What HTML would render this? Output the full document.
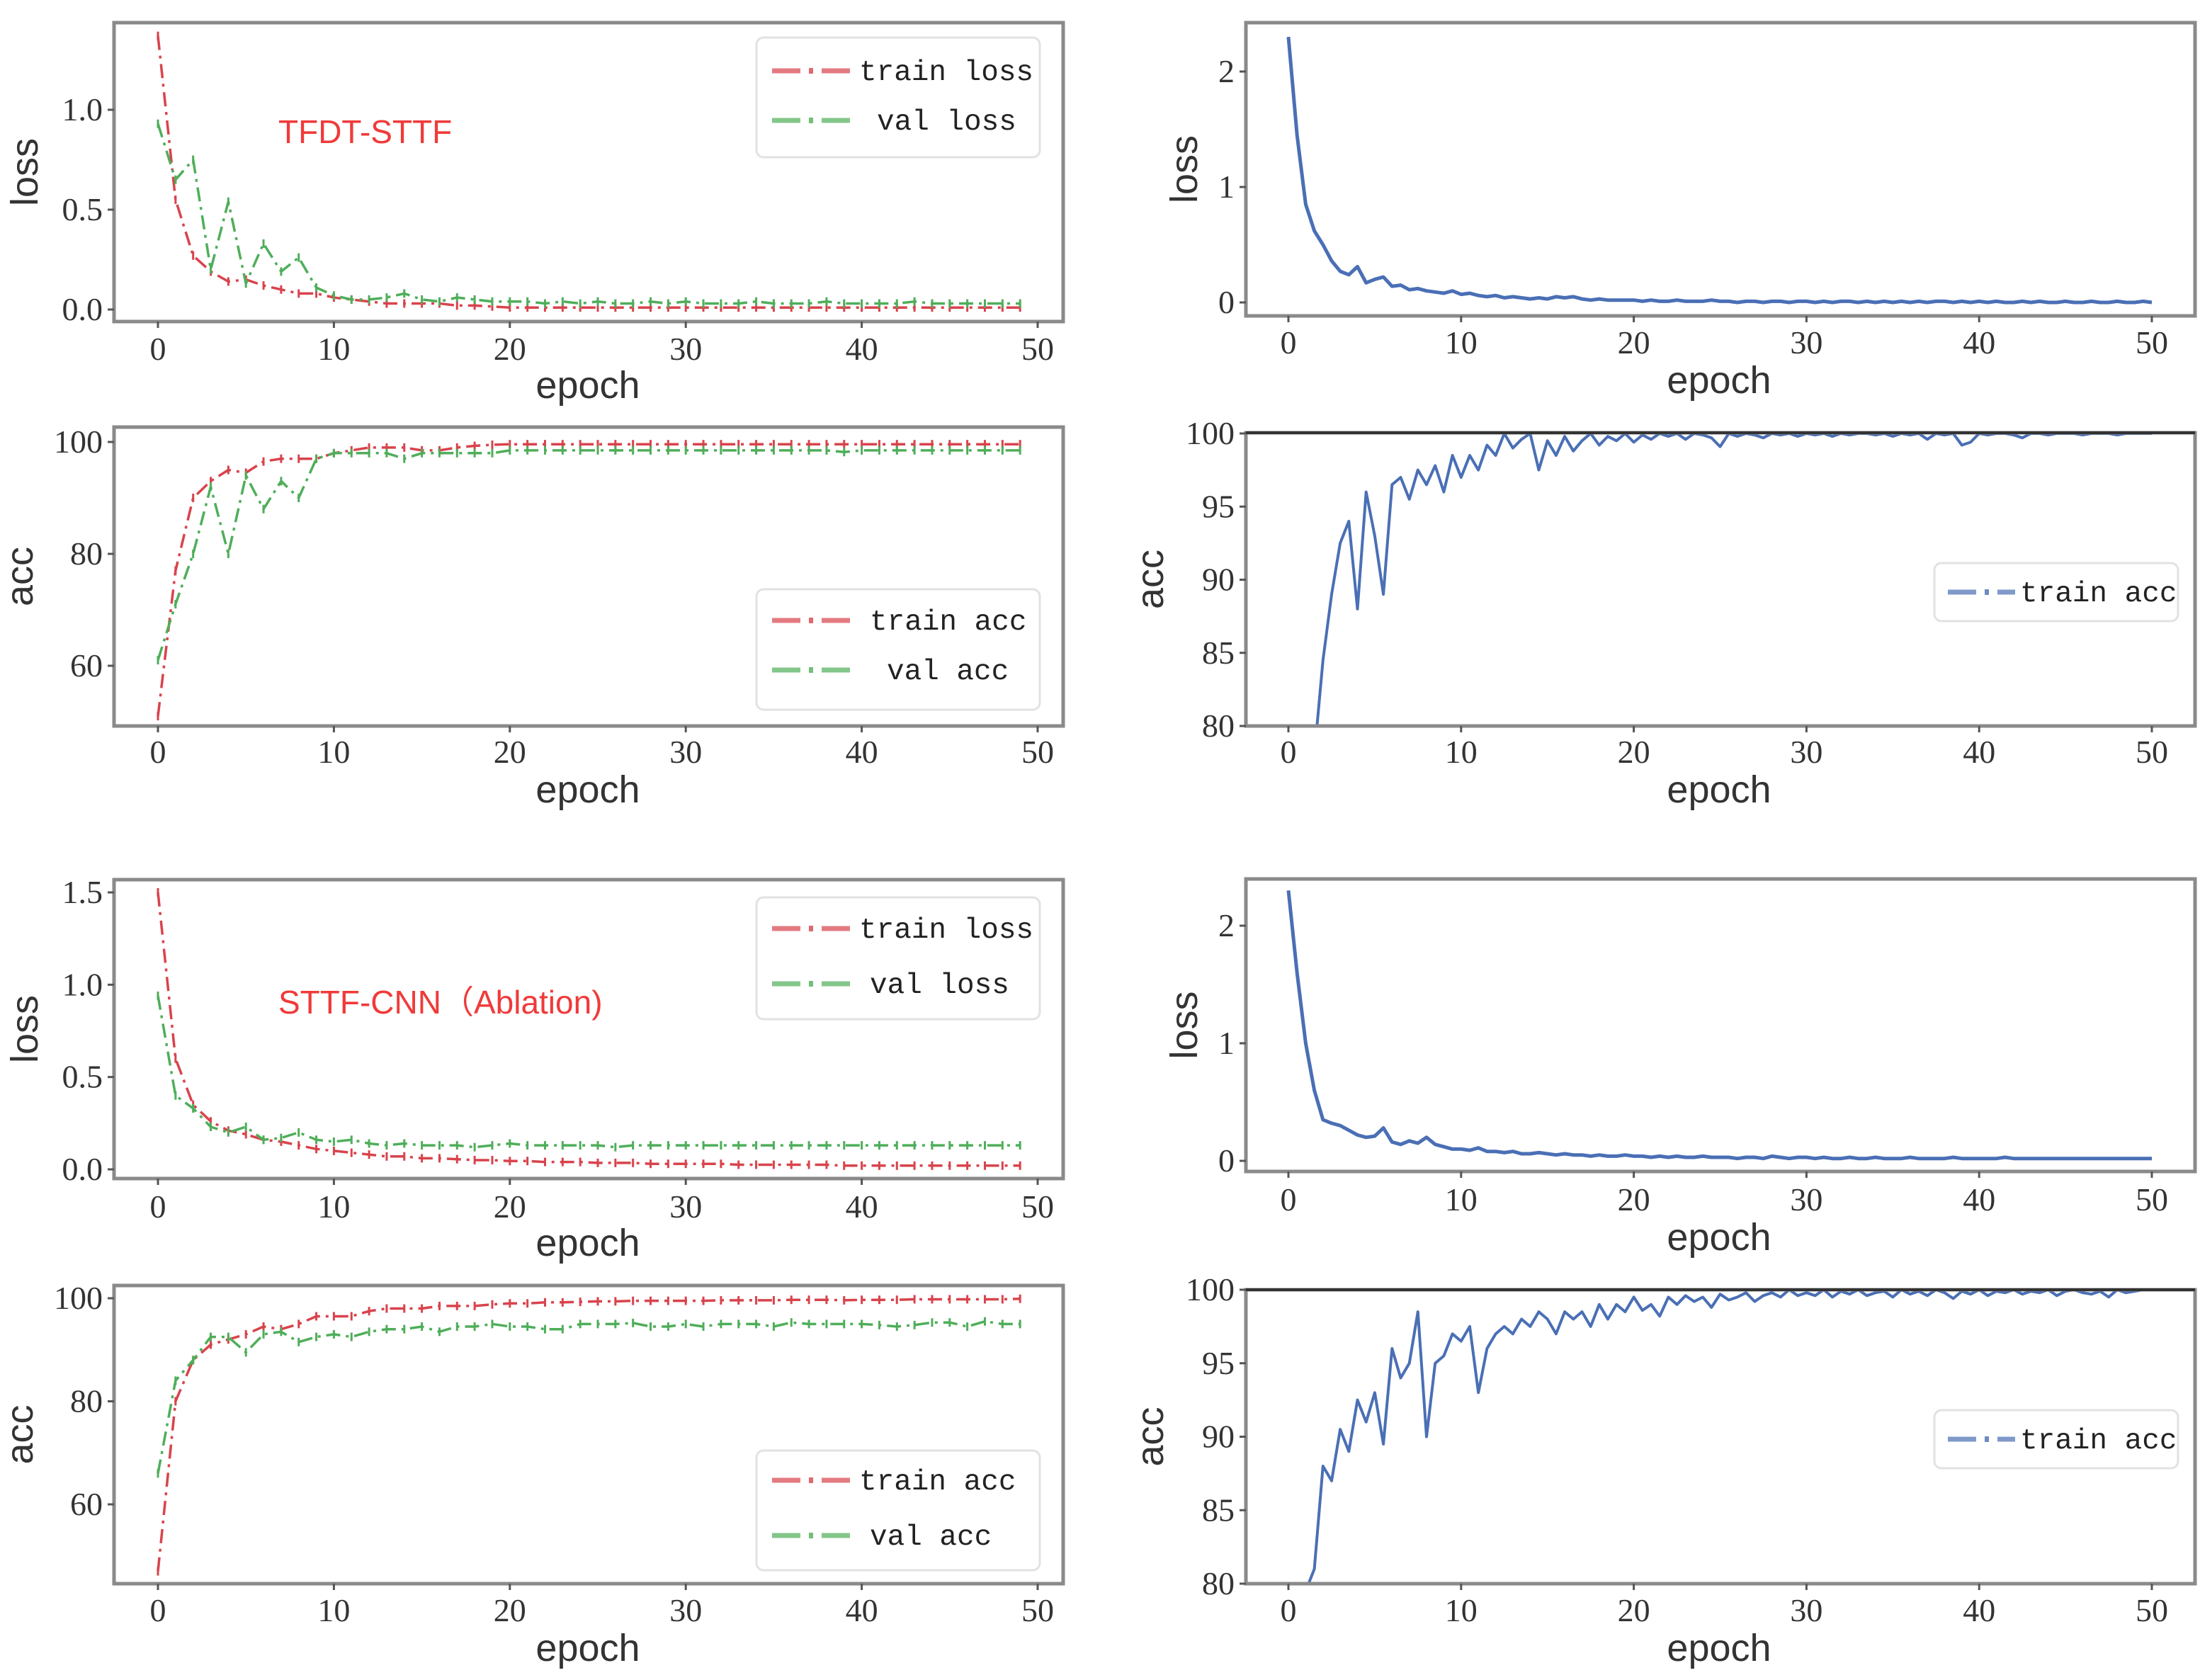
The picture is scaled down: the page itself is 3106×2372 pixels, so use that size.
<!DOCTYPE html>
<html><head><meta charset="utf-8"><style>
html,body{margin:0;padding:0;background:#fff;width:3106px;height:2372px;overflow:hidden;}
svg{display:block;overflow:hidden;}
.tick{font-family:"Liberation Serif",serif;font-size:46px;fill:#333;}
.axl{font-family:"Liberation Sans",sans-serif;font-size:54px;fill:#333;}
.leg{font-family:"Liberation Mono",monospace;font-size:41px;fill:#222;}
.ann{font-family:"Liberation Sans",sans-serif;font-size:46px;fill:#f03a3a;}
</style></head><body>
<svg id="fig" width="3106" height="2372" viewBox="0 0 3106 2372" xmlns="http://www.w3.org/2000/svg">
<rect width="3106" height="2372" fill="#fff"/>
<defs></defs>
</svg>
<script>
// ---- data ----
const epochsLeft = Array.from({length:50},(_,i)=>i);
const tfdtTrainLoss=[1.37,0.55,0.27,0.19,0.14,0.15,0.12,0.10,0.08,0.08,0.06,0.05,0.04,0.03,0.03,0.03,0.03,0.02,0.02,0.015,
0.01,0.01,0.01,0.01,0.01,0.01,0.01,0.01,0.01,0.01,0.01,0.01,0.01,0.01,0.01,0.01,0.01,0.01,0.01,0.01,0.01,0.01,0.01,0.01,0.01,0.01,0.01,0.01,0.01,0.01];
const tfdtValLoss=[0.93,0.65,0.75,0.2,0.54,0.13,0.33,0.19,0.26,0.11,0.07,0.05,0.05,0.06,0.08,0.05,0.04,0.06,0.05,0.04,
0.04,0.04,0.03,0.04,0.03,0.04,0.03,0.03,0.04,0.03,0.04,0.03,0.03,0.03,0.04,0.03,0.03,0.03,0.04,0.03,0.03,0.03,0.03,0.04,0.03,0.03,0.03,0.03,0.03,0.03];
const tfdtTrainAcc=[51,77,90,93,95,94.5,96.5,97,97,97,98,98.5,99,99,99,98.5,98.5,99,99.3,99.5,
99.6,99.6,99.6,99.6,99.6,99.6,99.6,99.6,99.6,99.6,99.6,99.6,99.6,99.6,99.6,99.6,99.6,99.6,99.6,99.6,99.6,99.6,99.6,99.6,99.6,99.6,99.6,99.6,99.6,99.6];
const tfdtValAcc=[61,71,80,92,80,94,88,93,90,97,98,98,98,98,97,98,98,98,98,98,
98.5,98.5,98.5,98.5,98.5,98.5,98.5,98.5,98.5,98.5,98.5,98.5,98.5,98.5,98.5,98.5,98.5,98.5,98.5,98.2,98.5,98.5,98.5,98.5,98.5,98.5,98.5,98.5,98.5,98.5];
const sttfTrainLoss=[1.5,0.6,0.35,0.26,0.21,0.19,0.16,0.15,0.13,0.11,0.1,0.09,0.08,0.07,0.07,0.06,0.06,0.055,0.05,0.05,
0.045,0.045,0.04,0.04,0.04,0.035,0.035,0.035,0.03,0.03,0.03,0.03,0.03,0.025,0.025,0.025,0.025,0.025,0.025,0.02,0.02,0.02,0.02,0.02,0.02,0.02,0.02,0.02,0.02,0.02];
const sttfValLoss=[0.94,0.4,0.33,0.23,0.2,0.23,0.16,0.17,0.2,0.16,0.15,0.16,0.14,0.13,0.14,0.13,0.13,0.13,0.12,0.13,
0.14,0.13,0.13,0.13,0.13,0.13,0.12,0.13,0.13,0.13,0.13,0.13,0.13,0.13,0.13,0.13,0.13,0.13,0.13,0.13,0.13,0.13,0.13,0.13,0.13,0.13,0.13,0.13,0.13,0.13];
const sttfTrainAcc=[47,80,88,91,92,93,94.5,94,95,96.5,96.5,96.5,97.5,98,98,98,98.5,98.5,98.5,98.8,
99,99,99.2,99.2,99.3,99.4,99.4,99.5,99.5,99.5,99.5,99.5,99.6,99.6,99.6,99.6,99.7,99.7,99.7,99.6,99.7,99.7,99.7,99.8,99.8,99.8,99.8,99.8,99.8,99.9];
const sttfValAcc=[66,84,88,92.5,92.5,89.5,93,93.5,91.5,92.5,93,92.5,93.5,94,94,94.5,93.5,94.5,94.5,95,
94.5,94.5,94,94,95,95,95,95.2,94.5,94.5,95,94.5,95,95,95,94.5,95.3,95,95,95,95,94.8,94.5,94.8,95.3,95.3,94.5,95.5,95,95];

const r1Loss=[2.3,1.45,0.85,0.62,0.5,0.36,0.27,0.24,0.31,0.17,
0.2,0.22,0.14,0.15,0.11,0.12,0.1,0.09,0.08,0.1,
0.07,0.08,0.06,0.05,0.06,0.04,0.05,0.04,0.03,0.04,
0.03,0.05,0.04,0.05,0.03,0.02,0.03,0.02,0.02,0.02,
0.02,0.01,0.02,0.01,0.01,0.02,0.01,0.01,0.01,0.02,
0.01,0.01,0.0,0.01,0.01,0.0,0.01,0.01,0.0,0.01,
0.01,0.0,0.01,0.0,0.01,0.01,0.0,0.01,0.0,0.01,
0.0,0.01,0.0,0.01,0.0,0.01,0.01,0.0,0.01,0.0,
0.01,0.0,0.01,0.0,0.0,0.01,0.0,0.01,0.0,0.0,
0.01,0.0,0.0,0.01,0.0,0.0,0.01,0.0,0.0,0.01,0.0];
const r2Acc=[60,66,72,78,84.5,89,92.5,94,88,96,
93,89,96.5,97,95.5,97.5,96.5,97.8,96,98.5,
97,98.5,97.5,99.2,98.5,100,99,99.6,100,97.5,
99.5,98.5,99.8,98.8,99.5,100,99.2,99.8,99.5,100,
99.4,99.9,99.6,100,99.8,100,99.6,100,99.9,99.7,
99.1,100,99.8,100,99.9,99.7,100,99.9,100,99.8,
100,99.9,100,99.8,100,99.9,100,100,99.9,100,
99.8,100,99.9,100,99.6,100,99.9,100,99.2,99.4,
100,99.9,100,100,99.9,99.7,100,100,99.9,100,
100,100,99.9,100,100,100,99.9,100,100,100,100];
const r3Loss=[2.3,1.6,1.0,0.6,0.35,0.32,0.3,0.26,0.22,0.2,
0.21,0.28,0.16,0.14,0.17,0.15,0.2,0.14,0.12,0.1,
0.1,0.09,0.11,0.08,0.08,0.07,0.08,0.06,0.06,0.07,
0.06,0.05,0.06,0.05,0.05,0.04,0.05,0.04,0.04,0.05,
0.04,0.04,0.03,0.04,0.03,0.04,0.03,0.03,0.04,0.03,
0.03,0.03,0.02,0.03,0.03,0.02,0.04,0.03,0.02,0.03,
0.03,0.02,0.03,0.02,0.02,0.03,0.02,0.02,0.03,0.02,
0.02,0.02,0.03,0.02,0.02,0.02,0.02,0.03,0.02,0.02,
0.02,0.02,0.02,0.03,0.02,0.02,0.02,0.02,0.02,0.02,
0.02,0.02,0.02,0.02,0.02,0.02,0.02,0.02,0.02,0.02,0.02];
const r4Acc=[75,77,79.5,81,88,87,90.5,89,92.5,91,
93,89.5,96,94,95,98.5,90,95,95.5,97,
96.5,97.5,93,96,97,97.5,97,98,97.5,98.5,
98,97,98.5,98,98.5,97.5,99,98,99,98.5,
99.5,98.6,99,98.2,99.5,99,99.6,99.2,99.5,98.8,
99.7,99.3,99.5,99.8,99.2,99.6,99.8,99.5,100,99.6,
99.8,99.6,100,99.5,99.9,99.7,100,99.6,99.8,99.9,
99.5,100,99.7,99.9,99.6,100,99.8,99.4,99.9,99.7,
100,99.6,99.9,99.8,100,99.7,99.9,99.8,100,99.6,
99.9,100,99.8,99.7,99.9,99.5,100,99.8,99.9,100,100];

const xTickVals=[0,10,20,30,40,50];
const lossTicksA=[0,0.5,1.0], lossTickLabelsA=["0.0","0.5","1.0"];
const lossTicksB=[0,0.5,1.0,1.5], lossTickLabelsB=["0.0","0.5","1.0","1.5"];
const accTicksL=[60,80,100], accTickLabelsL=["60","80","100"];
const lossTicksR=[0,1,2], lossTickLabelsR=["0","1","2"];
const accTicksR=[80,85,90,95,100], accTickLabelsR=["80","85","90","95","100"];

const RED="#d9434c", GREEN="#4fae5a", BLUE="#4a6fb5";
const NS="http://www.w3.org/2000/svg";
const svg=document.getElementById('fig');
function mk(tag,attrs,parent){const e=document.createElementNS(NS,tag);for(const k in attrs)e.setAttribute(k,attrs[k]);(parent||svg).appendChild(e);return e;}

let clipId=0;
function panel(p){
  const g=mk('g',{});
  
  
  const sx=v=>p.x0+(v-0)*(p.x50-p.x0)/50;
  const sy=v=>p.yA+(v-p.vA)*(p.yB-p.yA)/(p.vB-p.vA);
  const cid='c'+(clipId++);
  const cp=mk('clipPath',{id:cid},svg.querySelector('defs'));
  mk('rect',{x:p.box[0],y:p.box[1]-4,width:p.box[2]-p.box[0],height:p.box[3]-p.box[1]+4},cp);
  p.series.forEach(s=>{
    const step=s.step;
    const pts=s.vals.map((v,i)=>[sx(i*step),sy(v)]);
    const path=mk('path',{d:'M'+pts.map(q=>q[0].toFixed(1)+','+q[1].toFixed(1)).join('L'),fill:'none',stroke:s.color,'stroke-width':s.w||3.5,'stroke-dasharray':s.dash||'none','clip-path':'url(#'+cid+')','stroke-linejoin':'round'},g);
    
    
    if(s.markers){pts.forEach(q=>{const m=mk('rect',{x:q[0]-1.5,y:q[1]-6,width:3,height:12,fill:s.color,'clip-path':'url(#'+cid+')'},g);
      
      });}
  });
  const fr=mk('rect',{x:p.box[0],y:p.box[1],width:p.box[2]-p.box[0],height:p.box[3]-p.box[1],fill:'none',stroke:'#8a8a8a','stroke-width':5},g);
  
  
  if(p.darkTop){mk('line',{x1:p.box[0],y1:p.box[1],x2:p.box[2],y2:p.box[1],stroke:'#333','stroke-width':4},g);}
  xTickVals.forEach(v=>{
    mk('line',{x1:sx(v),y1:p.box[3],x2:sx(v),y2:p.box[3]+9,stroke:'#555','stroke-width':3},g);
    const t=mk('text',{x:sx(v),y:p.xlabY+15,'text-anchor':'middle',class:'tick'},g);t.textContent=v;
    
    
  });
  p.yt.forEach((v,i)=>{
    mk('line',{x1:p.box[0]-9,y1:sy(v),x2:p.box[0],y2:sy(v),stroke:'#555','stroke-width':3},g);
    const t=mk('text',{x:p.box[0]-16,y:sy(v)+15,'text-anchor':'end',class:'tick'},g);t.textContent=p.ytl[i];
    
    
  });
  const xl=mk('text',{x:p.epochX,y:p.epochY+14,'text-anchor':'middle',class:'axl'},g);xl.textContent='epoch';
  
  
  const yl=mk('text',{x:0,y:0,'text-anchor':'middle',class:'axl',transform:'translate('+(p.ylabX+18)+','+((p.box[1]+p.box[3])/2)+') rotate(-90)'},g);yl.textContent=p.ylab;
  
  
  if(p.legend){
    const L=p.legend;
    const lg=mk('g',{},g);
    
    
    mk('rect',{x:L.box[0],y:L.box[1],width:L.box[2]-L.box[0],height:L.box[3]-L.box[1],rx:10,fill:'#fff',stroke:'#e2e2e2','stroke-width':3},lg);
    L.items.forEach(it=>{
      const e=mk('g',{},lg);
      
      
      mk('line',{x1:L.lx1,y1:it.y,x2:L.lx1+40,y2:it.y,stroke:it.color,'stroke-width':7,opacity:0.7},e);
      mk('line',{x1:L.lx1+52,y1:it.y,x2:L.lx1+58,y2:it.y,stroke:it.color,'stroke-width':8,opacity:0.8},e);
      mk('line',{x1:L.lx1+70,y1:it.y,x2:L.lx2,y2:it.y,stroke:it.color,'stroke-width':7,opacity:0.7},e);
      const t=mk('text',{x:it.tx,y:it.y+13,class:'leg'},e);t.textContent=it.label;
    });
  }
  if(p.ann){const a=mk('text',{x:p.ann.x,y:p.ann.y+15,class:'ann'},g);a.textContent=p.ann.text;
    
    }
}
const DASH="20,8,4,8";
const LX=830, RX=2427;
panel({name:'tfdt-loss-panel',box:[161,32,1501,454],x0:223,x50:1465,vA:0,yA:437,vB:1,yB:155,yt:lossTicksA,ytl:lossTickLabelsA,xlabY:493,epochX:LX,epochY:548,ylab:'loss',ylabX:35,
  series:[{name:'train-loss-line',vals:tfdtTrainLoss,step:1,color:RED,dash:DASH,markers:true},{name:'val-loss-line',vals:tfdtValLoss,step:1,color:GREEN,dash:DASH,markers:true}],
  legend:{box:[1068,53,1468,222],lx1:1090,lx2:1200,items:[{y:100,color:RED,label:'train loss',tx:1213},{y:170,color:GREEN,label:'val loss',tx:1238}]},
  ann:{x:393,y:187,text:'TFDT-STTF'}});
panel({name:'tfdt-acc-panel',box:[161,603,1501,1025],x0:223,x50:1465,vA:60,yA:940,vB:100,yB:624,yt:accTicksL,ytl:accTickLabelsL,xlabY:1062,epochX:LX,epochY:1119,ylab:'acc',ylabX:28,
  series:[{name:'train-acc-line',vals:tfdtTrainAcc,step:1,color:RED,dash:DASH,markers:true},{name:'val-acc-line',vals:tfdtValAcc,step:1,color:GREEN,dash:DASH,markers:true}],
  legend:{box:[1068,832,1468,1002],lx1:1090,lx2:1200,items:[{y:876,color:RED,label:'train acc',tx:1228},{y:946,color:GREEN,label:'val acc',tx:1252}]}});
panel({name:'sttf-loss-panel',box:[161,1242,1501,1664],x0:223,x50:1465,vA:0,yA:1651,vB:1.5,yB:1260,yt:lossTicksB,ytl:lossTickLabelsB,xlabY:1704,epochX:LX,epochY:1759,ylab:'loss',ylabX:35,
  series:[{name:'train-loss-line',vals:sttfTrainLoss,step:1,color:RED,dash:DASH,markers:true},{name:'val-loss-line',vals:sttfValLoss,step:1,color:GREEN,dash:DASH,markers:true}],
  legend:{box:[1068,1267,1468,1439],lx1:1090,lx2:1200,items:[{y:1311,color:RED,label:'train loss',tx:1213},{y:1389,color:GREEN,label:'val loss',tx:1228}]},
  ann:{x:393,y:1416,text:'STTF-CNN（Ablation)'}});
panel({name:'sttf-acc-panel',box:[161,1815,1501,2236],x0:223,x50:1465,vA:60,yA:2124,vB:100,yB:1833,yt:accTicksL,ytl:accTickLabelsL,xlabY:2274,epochX:LX,epochY:2331,ylab:'acc',ylabX:28,
  series:[{name:'train-acc-line',vals:sttfTrainAcc,step:1,color:RED,dash:DASH,markers:true},{name:'val-acc-line',vals:sttfValAcc,step:1,color:GREEN,dash:DASH,markers:true}],
  legend:{box:[1068,2048,1468,2217],lx1:1090,lx2:1200,items:[{y:2090,color:RED,label:'train acc',tx:1213},{y:2168,color:GREEN,label:'val acc',tx:1228}]}});
panel({name:'tfdt-step-loss-panel',box:[1759,32,3099,446],x0:1819,x50:3038,vA:0,yA:427,vB:2,yB:101,yt:lossTicksR,ytl:lossTickLabelsR,xlabY:484,epochX:RX,epochY:541,ylab:'loss',ylabX:1672,
  series:[{name:'train-loss-line',vals:r1Loss,step:0.5,color:BLUE,w:5}]});
panel({name:'tfdt-step-acc-panel',box:[1759,611,3099,1025],x0:1819,x50:3038,vA:80,yA:1025,vB:100,yB:612,yt:accTicksR,ytl:accTickLabelsR,xlabY:1062,epochX:RX,epochY:1119,ylab:'acc',ylabX:1624,darkTop:true,
  series:[{name:'train-acc-line',vals:r2Acc,step:0.5,color:BLUE,w:4}],
  legend:{box:[2731,795,3075,877],lx1:2750,lx2:2845,items:[{y:836,color:BLUE,label:'train acc',tx:2852}]}});
panel({name:'sttf-step-loss-panel',box:[1759,1241,3099,1654],x0:1819,x50:3038,vA:0,yA:1639,vB:2,yB:1307,yt:lossTicksR,ytl:lossTickLabelsR,xlabY:1694,epochX:RX,epochY:1751,ylab:'loss',ylabX:1672,
  series:[{name:'train-loss-line',vals:r3Loss,step:0.5,color:BLUE,w:5}]});
panel({name:'sttf-step-acc-panel',box:[1759,1821,3099,2236],x0:1819,x50:3038,vA:80,yA:2236,vB:100,yB:1821,yt:accTicksR,ytl:accTickLabelsR,xlabY:2274,epochX:RX,epochY:2331,ylab:'acc',ylabX:1624,darkTop:true,
  series:[{name:'train-acc-line',vals:r4Acc,step:0.5,color:BLUE,w:4}],
  legend:{box:[2731,1991,3075,2073],lx1:2750,lx2:2845,items:[{y:2032,color:BLUE,label:'train acc',tx:2852}]}});
</script>
</body></html>
